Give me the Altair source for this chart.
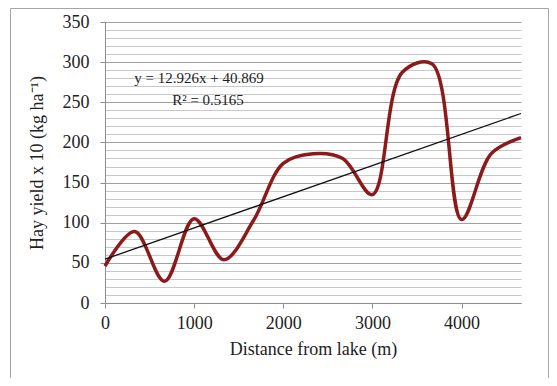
import altair as alt
import pandas as pd

# Data (distance from lake in m, hay yield x10 kg/ha)
distance = [0, 333, 667, 1000, 1333, 1667, 2000, 2333, 2667, 3000, 3333, 3667, 4000, 4333, 4667]
hay_yield = [46, 89, 27, 105, 54, 103, 174, 186, 180, 135, 287, 298, 104, 186, 206]

x_ticks = [0, 1000, 2000, 3000, 4000]
y_grid = list(range(0, 351, 10))
equation_text = "y = 12.926x  + 40.869"
r2_text = "R² = 0.5165"

df = pd.DataFrame({"distance": distance, "yield": hay_yield})

FONT = "Liberation Serif"
W, H = 416, 281

x_scale = alt.Scale(domain=[0, 4667], nice=False, zero=False)
y_scale = alt.Scale(domain=[0, 350], nice=False)

x_enc = alt.X(
    "distance:Q",
    scale=x_scale,
    axis=alt.Axis(
        values=x_ticks,
        format="d",
        title="Distance from lake (m)",
        grid=False,
        tickSize=5,
        labelPadding=6,
        titlePadding=8,
        labelOverlap=False,
        labelFlush=False,
    ),
)
y_enc = alt.Y(
    "yield:Q",
    scale=y_scale,
    axis=alt.Axis(
        values=y_grid,
        format="d",
        title="Hay yield x 10 (kg ha⁻¹)",
        labelExpr="datum.value % 50 === 0 ? datum.label : ''",
        labelOverlap=False,
        gridColor={"condition": {"test": "datum.value % 50 === 0", "value": "#a0a0a0"}, "value": "#c8c8c8"},
        tickSize={"condition": {"test": "datum.value % 50 === 0", "value": 5}, "value": 0},
        labelPadding=11,
        titlePadding=16,
    ),
)

base = alt.Chart(df)

line = base.mark_line(
    interpolate="catmull-rom", color="#8c1a1a", strokeWidth=3.5
).encode(x=x_enc, y=y_enc)

trend = base.transform_regression("distance", "yield").mark_line(
    color="#111111", strokeWidth=1.3
).encode(x=x_enc, y=y_enc)

blank = alt.Chart(alt.Data(values=[{}]))

eq = blank.mark_text(font=FONT, fontSize=15, color="#222222").encode(
    x=alt.value(94), y=alt.value(56), text=alt.value(equation_text)
)
r2 = blank.mark_text(font=FONT, fontSize=15, color="#222222").encode(
    x=alt.value(103), y=alt.value(78), text=alt.value(r2_text)
)
border = blank.mark_rect(fill=None, stroke="#a6a6a6", strokeWidth=1).encode(
    x=alt.value(-94.5), x2=alt.value(443.5), y=alt.value(-13.5), y2=alt.value(361.5)
)

chart = alt.layer(line, trend, border, eq, r2).properties(
    width=W,
    height=H,
    autosize=alt.AutoSizeParams(type="none"),
    padding={"left": 97, "top": 14, "right": 28, "bottom": 75},
).configure_view(stroke=None).configure_axis(
    labelFont=FONT,
    titleFont=FONT,
    labelFontSize=18,
    titleFontSize=18,
    titleFontWeight="normal",
    labelColor="#222222",
    titleColor="#222222",
    domainColor="#8c8c8c",
    tickColor="#8c8c8c",
)

chart.save("out.html", embed_options={"renderer": "svg", "actions": False})
